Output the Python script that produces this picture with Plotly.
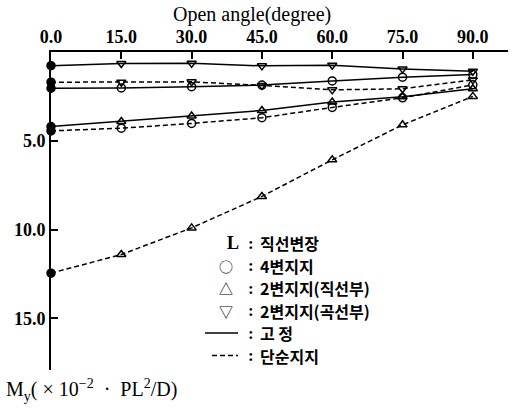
import plotly.graph_objects as go

angles = [0, 15, 30, 45, 60, 75, 90]
x_ticks = [0, 15, 30, 45, 60, 75, 90]
x_tick_labels = ["0.0", "15.0", "30.0", "45.0", "60.0", "75.0", "90.0"]
y_ticks = [5, 10, 15]
y_tick_labels = ["5.0", "10.0", "15.0"]

# 2변지지(곡선부) - 고정 / 단순지지
curve_fixed = [0.77, 0.65, 0.64, 0.78, 0.75, 0.95, 1.08]
curve_simple = [1.70, 1.70, 1.68, 1.88, 2.13, 2.07, 1.57]
# 4변지지 - 고정 / 단순지지
four_fixed = [2.04, 2.02, 1.95, 1.86, 1.63, 1.42, 1.27]
four_simple = [4.44, 4.29, 4.02, 3.70, 3.12, 2.58, 1.85]
# 2변지지(직선부) - 고정 / 단순지지
straight_fixed = [4.20, 3.91, 3.60, 3.29, 2.82, 2.52, 2.07]
straight_simple = [12.45, 11.40, 9.90, 8.13, 6.07, 4.10, 2.50]

series = [
    (curve_fixed, "triangle-down-open", "solid"),
    (curve_simple, "triangle-down-open", "5px,3px"),
    (four_fixed, "circle-open", "solid"),
    (four_simple, "circle-open", "5px,3px"),
    (straight_fixed, "triangle-up-open", "solid"),
    (straight_simple, "triangle-up-open", "5px,3px"),
]

fig = go.Figure()
for vals, sym, dash in series:
    symbols = ["circle"] + [sym] * (len(vals) - 1)
    fig.add_trace(go.Scatter(
        x=angles, y=vals, mode="lines+markers",
        line=dict(color="black", width=1.5, dash=dash),
        marker=dict(symbol=symbols, size=8, color="black",
                    line=dict(color="black", width=1.5)),
        showlegend=False, cliponaxis=False,
    ))

W, H = 518, 410
L, R, T, B = 51, 10, 52, 40
pw, ph = W - L - R, H - T - B

def px(x):
    return (x - L) / pw

def py(y):
    return 1 - (y - T) / ph

serif = "Liberation Serif"
kr = "Noto Sans CJK KR"
nb = "\u00a0"

fig.update_layout(
    width=W, height=H,
    margin=dict(l=L, r=R, t=T, b=B),
    paper_bgcolor="white", plot_bgcolor="white",
    xaxis=dict(
        side="top", range=[0, 97.5], tickvals=x_ticks, ticktext=x_tick_labels,
        ticks="inside", ticklen=7, tickwidth=1.5, tickcolor="black",
        showline=True, linecolor="black", linewidth=2, showgrid=False,
        zeroline=False, tickfont=dict(family=serif, size=18, color="black", weight="bold"),
    ),
    yaxis=dict(
        range=[17.9, 0], tickvals=y_ticks, ticktext=y_tick_labels,
        ticks="inside", ticklen=7, tickwidth=1.5, tickcolor="black",
        showline=True, linecolor="black", linewidth=2, showgrid=False,
        zeroline=False, tickfont=dict(family=serif, size=18, color="black", weight="bold"),
    ),
)

ann = []
ann.append(dict(x=px(252), y=py(14), text="Open angle(degree)",
                font=dict(family=serif, size=20, color="black")))
ann.append(dict(x=px(4), y=py(390), xanchor="left",
                text="M<sub>y</sub>(" + nb + "×" + nb + "10<sup>−2</sup>" + nb * 2 + "·" + nb * 2
                     + "PL<sup>2</sup>/D)",
                font=dict(family=serif, size=20, color="black")))

rows = [
    ("L", "직선변장", 243),
    ("○", "4변지지", 265.5),
    ("△", "2변지지(직선부)", 288),
    ("▽", "2변지지(곡선부)", 310.5),
    ("", "고 정", 333),
    ("", "단순지지", 355.5),
]
for sym, txt, yy in rows:
    if sym:
        is_l = sym == "L"
        ann.append(dict(x=px(241 if is_l else 235), y=py(yy), xanchor="right", text=sym,
                        font=dict(family=serif if is_l else kr, size=18 if is_l else 14,
                                  color="black", weight="bold" if is_l else "normal")))
    ann.append(dict(x=px(251), y=py(yy), xanchor="center", text=":",
                    font=dict(family=serif, size=17, color="black", weight="bold")))
    ann.append(dict(x=px(258), y=py(yy), xanchor="left", text=txt,
                    font=dict(family=kr, size=16, color="black", weight="bold")))

for a in ann:
    a.update(xref="paper", yref="paper", showarrow=False, yanchor="middle")
fig.update_layout(annotations=ann)

fig.add_shape(type="line", xref="paper", yref="paper",
              x0=px(205), x1=px(238), y0=py(333), y1=py(333),
              line=dict(color="black", width=1.5))
fig.add_shape(type="line", xref="paper", yref="paper",
              x0=px(212), x1=px(238), y0=py(355.5), y1=py(355.5),
              line=dict(color="black", width=1.5, dash="5px,3px"))

fig.write_html("out.html")
